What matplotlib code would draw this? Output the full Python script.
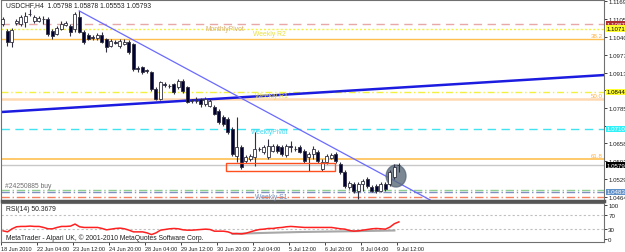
import matplotlib
matplotlib.use("Agg")
import matplotlib.pyplot as plt
import matplotlib.transforms as mtransforms
from matplotlib.patches import Rectangle, Ellipse

plt.rcParams['font.family'] = ['Liberation Sans', 'DejaVu Sans']

# USDCHF H4 candles
opens = [1.1088, 1.1063, 1.1023, 1.1093, 1.1088, 1.1095, 1.1124, 1.1099, 1.1099, 1.1106,
         1.1106, 1.1063, 1.1052, 1.1070, 1.1084, 1.1081, 1.1070, 1.1113, 1.1059, 1.1048,
         1.1041, 1.1037, 1.1048, 1.1034, 1.1009, 1.1023, 1.1009, 1.1016, 1.1023, 1.1016,
         1.0929, 1.0933, 1.0922, 1.0915, 1.0854, 1.0818, 1.0872, 1.0865, 1.0872, 1.0861,
         1.0883, 1.0861, 1.0811, 1.0811, 1.0818, 1.0800, 1.0793, 1.0789, 1.0775, 1.0753,
         1.0746, 1.0710, 1.0613, 1.0645, 1.0595, 1.0602, 1.0609, 1.0638, 1.0627, 1.0609,
         1.0631, 1.0649, 1.0645, 1.0616, 1.0649, 1.0638, 1.0645, 1.0631, 1.0609, 1.0620,
         1.0627, 1.0566, 1.0591, 1.0605, 1.0620, 1.0584, 1.0555, 1.0501, 1.0512, 1.0487,
         1.0512, 1.0530, 1.0501, 1.0505, 1.0487, 1.0512, 1.0512, 1.0537, 1.05798]
highs = [1.1113, 1.1070, 1.1073, 1.1106, 1.1120, 1.1131, 1.1142, 1.1120, 1.1117, 1.1117,
         1.1113, 1.1070, 1.1081, 1.1099, 1.1099, 1.1088, 1.1131, 1.1136, 1.1066, 1.1055,
         1.1048, 1.1055, 1.1059, 1.1037, 1.1034, 1.1030, 1.1034, 1.1034, 1.1030, 1.1019,
         1.0937, 1.0937, 1.0926, 1.0919, 1.0861, 1.0883, 1.0879, 1.0872, 1.0875, 1.0890,
         1.0890, 1.0865, 1.0818, 1.0825, 1.0821, 1.0825, 1.0818, 1.0796, 1.0782, 1.0760,
         1.0753, 1.0717, 1.0753, 1.0652, 1.0616, 1.0620, 1.0699, 1.0645, 1.0652, 1.0674,
         1.0656, 1.0656, 1.0652, 1.0656, 1.0667, 1.0649, 1.0652, 1.0638, 1.0627, 1.0649,
         1.0634, 1.0602, 1.0620, 1.0623, 1.0627, 1.0591, 1.0562, 1.0523, 1.0519, 1.0519,
         1.0530, 1.0537, 1.0508, 1.0512, 1.0519, 1.0519, 1.0562, 1.0584, 1.05878]
lows = [1.1081, 1.1009, 1.1005, 1.1084, 1.1081, 1.1077, 1.1117, 1.1091, 1.1095, 1.1088,
        1.1045, 1.1034, 1.1048, 1.1066, 1.1081, 1.1045, 1.1059, 1.1055, 1.1016, 1.1030,
        1.1030, 1.1030, 1.1019, 1.0987, 1.1005, 1.1016, 1.1001, 1.1012, 1.0980, 1.0919,
        1.0915, 1.0908, 1.0911, 1.0847, 1.0814, 1.0814, 1.0861, 1.0857, 1.0836, 1.0854,
        1.0839, 1.0803, 1.0803, 1.0803, 1.0789, 1.0793, 1.0789, 1.0760, 1.0728, 1.0721,
        1.0692, 1.0613, 1.0591, 1.0566, 1.0587, 1.0595, 1.0577, 1.0631, 1.0620, 1.0602,
        1.0627, 1.0623, 1.0613, 1.0609, 1.0627, 1.0631, 1.0623, 1.0587, 1.0559, 1.0602,
        1.0587, 1.0559, 1.0584, 1.0602, 1.0587, 1.0548, 1.0497, 1.0494, 1.0479, 1.0458,
        1.0487, 1.0497, 1.0483, 1.0479, 1.0483, 1.0487, 1.0505, 1.0530, 1.05553]
closes = [1.1106, 1.1023, 1.1066, 1.1097, 1.1113, 1.1117, 1.1122, 1.1113, 1.1109, 1.1104,
          1.1052, 1.1045, 1.1073, 1.1088, 1.1091, 1.1059, 1.1124, 1.1059, 1.1023, 1.1034,
          1.1037, 1.1048, 1.1023, 1.1005, 1.1027, 1.1021, 1.1027, 1.1023, 1.0987, 1.0926,
          1.0926, 1.0915, 1.0919, 1.0854, 1.0818, 1.0879, 1.0870, 1.0863, 1.0843, 1.0883,
          1.0847, 1.0807, 1.0809, 1.0812, 1.0800, 1.0818, 1.0811, 1.0764, 1.0735, 1.0728,
          1.0699, 1.0620, 1.0645, 1.0573, 1.0609, 1.0613, 1.0638, 1.0636, 1.0645, 1.0649,
          1.0649, 1.0631, 1.0620, 1.0649, 1.0645, 1.0636, 1.0627, 1.0595, 1.0620, 1.0638,
          1.0595, 1.0591, 1.0613, 1.0616, 1.0595, 1.0555, 1.0505, 1.0515, 1.0487, 1.0512,
          1.0523, 1.0505, 1.0487, 1.0487, 1.0512, 1.0494, 1.0555, 1.0573, 1.05793]

rsi = [24, 21, 30, 36, 37, 37, 38, 37, 37, 34, 30, 30, 34, 37, 37, 38, 44, 36, 34, 34,
       34, 34, 31, 27, 29, 31, 32, 30, 26, 21, 21, 21, 18, 13, 18, 26, 28, 30, 31, 30,
       27, 26, 26, 27, 28, 29, 28, 23, 23, 23, 21, 16, 16, 15, 17, 21, 25, 28, 29, 31,
       31, 33, 34, 36, 37, 36, 35, 34, 34, 34, 34, 34, 34, 34, 32, 30, 29, 25, 23, 24,
       26, 28, 30, 31, 30, 29, 35, 45, 50.37]
gray_bars = [51, 57, 66, 76, 87]
gray_vals = [15, 17.6, 20.6, 22.6, 25]

time_labels = ["18 Jun 2010", "22 Jun 04:00", "23 Jun 12:00", "24 Jun 20:00", "28 Jun 04:00",
               "29 Jun 12:00", "30 Jun 20:00", "2 Jul 04:00", "5 Jul 12:00", "6 Jul 20:00",
               "8 Jul 04:00", "9 Jul 12:00"]
price_ticks = [1.11695, 1.11050, 1.10405, 1.09775, 1.09130, 1.08490, 1.07855, 1.07210,
               1.06580, 1.05935, 1.05290, 1.04645]
price_tick_labels = ["1.11695", "1.11050", "1.10405", "1.09775", "1.09130", "", "1.07855", "",
                     "1.06580", "1.05935", "1.05290", "1.04645"]

monthly_pivot = 1.1087
weekly_r2 = 1.10715
weekly_r1 = 1.08440
weekly_pivot = 1.07103
weekly_s1 = 1.04838
fib382, fib500, fib618 = 1.1034, 1.0818, 1.0602
bid = 1.05793
order_buy = 1.0491
order_sl = 1.0466

W, H = 625, 253
fig = plt.figure(figsize=(W / 100, H / 100), dpi=100, facecolor="white")


def rect(x0, y0, x1, y1):
    return [x0 / W, 1 - y1 / H, (x1 - x0) / W, (y1 - y0) / H]


ax = fig.add_axes(rect(1.5, 1, 604, 202))
ar = fig.add_axes(rect(1.5, 204, 604, 243))
fs = 4.9
fs_tick = 4.4
fs_time = 4.0

ax.set_xlim(-0.27, 133.6)
ax.set_ylim(1.04506, 1.11742)
for a in (ax, ar):
    for s in a.spines.values():
        s.set_color("#707070")
        s.set_linewidth(0.8)
ax.spines["bottom"].set_linewidth(2.5)
ax.spines["bottom"].set_color("#555555")

# horizontal levels
ax.axhline(monthly_pivot, color="#e8a8a8", lw=1, ls=(0, (6, 4)), zorder=1)
ax.axhline(weekly_r2, color="#f2f040", lw=1, ls=(0, (1.5, 1.5)), zorder=1)
ax.axhline(fib382, color="#ffc050", lw=1, zorder=1)
ax.axhline(weekly_r1, color="#f2f040", lw=1, ls=(0, (5, 2, 1, 2)), zorder=1)
ax.axhline(fib500, color="#ffd8b0", lw=1.8, zorder=1)
ax.axhline(weekly_pivot, color="#40e4f0", lw=1, ls=(0, (6, 4)), zorder=1)
ax.axhline(fib618, color="#ffc050", lw=1.2, zorder=1)
ax.axhline(bid, color="#c8c8c8", lw=1, zorder=1)
ax.axhline(order_buy, color="#90d090", lw=1, ls=(0, (6, 2, 1, 2)), zorder=1)
ax.axhline(weekly_s1, color="#8090c0", lw=1, ls=(0, (6, 2, 1, 2)), zorder=1)
ax.axhline(order_sl, color="#f08060", lw=1, ls=(0, (6, 2, 1, 2)), zorder=1)

for lvl, name in [(fib382, "38.2"), (fib500, "50.0"), (fib618, "61.8")]:
    ax.text(133.3, lvl + 0.0003, name, color="#ffb040", fontsize=fs_tick, ha="right", va="bottom")

ax.text(45, 1.1072, "MonthlyPivot", color="#d8b070", fontsize=fs, va="center")
ax.text(55.6, 1.1055, "Weekly R2", color="#e8e040", fontsize=fs, va="center")
ax.text(56, 1.0832, "Weekly R1", color="#e8e040", fontsize=fs, va="center")
ax.text(55.2, 1.0699, "WeeklyPivot", color="#40d8f0", fontsize=fs, va="center")
ax.text(56, 1.0465, "Weekly S1", color="#7090c0", fontsize=fs, va="center")
ax.text(0.5, 1.0508, "#24250885 buy", color="#707070", fontsize=fs, va="center")

# trend lines
ax.plot([-0.27, 133.6], [1.0771, 1.0904], color="#1c1ce0", lw=1.8, zorder=2)
ax.plot([17, 95], [1.1135, 1.0454], color="#6a6aff", lw=0.9, zorder=2)

ax.add_patch(Ellipse((87.4, 1.05406), 4.4, 0.0079, color="#5a6a7a", alpha=0.8, zorder=2))
ax.add_patch(Rectangle((49.7, 1.0559), 24.1, 0.0029, fill=False, edgecolor="#ff5020", lw=1, zorder=4))

# candles
for i in range(len(opens)):
    o, h, l, c = opens[i], highs[i], lows[i], closes[i]
    ax.vlines(i, l, h, color="#303040", lw=0.8, zorder=3)
    up = c >= o
    bot = min(o, c)
    ht = max(abs(c - o), 0.00008)
    ax.bar(i, ht, bottom=bot, width=0.68, color="white" if up else "#000033",
           edgecolor="#303040", lw=0.6, zorder=3)

ax.yaxis.tick_right()
ax.set_yticks(price_ticks)
ax.set_yticklabels(price_tick_labels)
ax.tick_params(axis="y", length=2, width=0.6, pad=1, labelsize=fs_tick, colors="#202020")
ax.set_xticks([])

trans = mtransforms.blended_transform_factory(ax.transAxes, ax.transData)
for val, fc, tc in [(monthly_pivot, "#b03030", "white"), (weekly_r2, "#ffff30", "black"),
                    (weekly_r1, "#ffff30", "black"), (weekly_pivot, "#30f0f8", "white"),
                    (bid, "#000000", "white"), (weekly_s1, "#6090c8", "white")]:
    ax.text(1.005, val, "%.5f" % val, transform=trans, fontsize=fs_tick, color=tc, va="center",
            ha="left", clip_on=False, zorder=5,
            bbox=dict(boxstyle="square,pad=0.1", fc=fc, ec="none"))

ax.text(0.008, 0.975, "USDCHF,H4  1.05798 1.05878 1.05553 1.05793", transform=ax.transAxes,
        fontsize=fs, color="#202020", va="center")

# RSI pane
ar.set_xlim(-0.27, 133.6)
ar.set_ylim(-8.8, 105.9)
ar.axhline(70, color="#c0c0c0", lw=0.8, ls=(0, (2, 2)))
ar.axhline(30, color="#c0c0c0", lw=0.8, ls=(0, (2, 2)))
ar.plot(gray_bars, gray_vals, color="#a8a8a8", lw=1.5)
ar.plot(range(len(rsi)), rsi, color="#ff2020", lw=1.1)
ar.yaxis.tick_right()
ar.set_yticks([0, 30, 70, 100])
ar.set_yticklabels(["0", "30", "70", "100"])
ar.tick_params(axis="y", length=2, width=0.6, pad=1, labelsize=fs_tick, colors="#202020")
ar.set_xticks([8 * k - 0.35 for k in range(len(time_labels))])
ar.set_xticklabels(time_labels, ha="left")
ar.tick_params(axis="x", length=2, width=0.6, pad=1, labelsize=fs_time, colors="#202020")
ar.text(0.008, 0.86, "RSI(14) 50.3679", transform=ar.transAxes, fontsize=fs, color="#202020",
        va="center")
ar.text(0.008, 0.12, "MetaTrader - Alpari UK, \u00a9 2001-2010 MetaQuotes Software Corp.",
        transform=ar.transAxes, fontsize=fs, color="#202020", va="center")

fig.savefig("out.png", dpi=100, facecolor="white")
